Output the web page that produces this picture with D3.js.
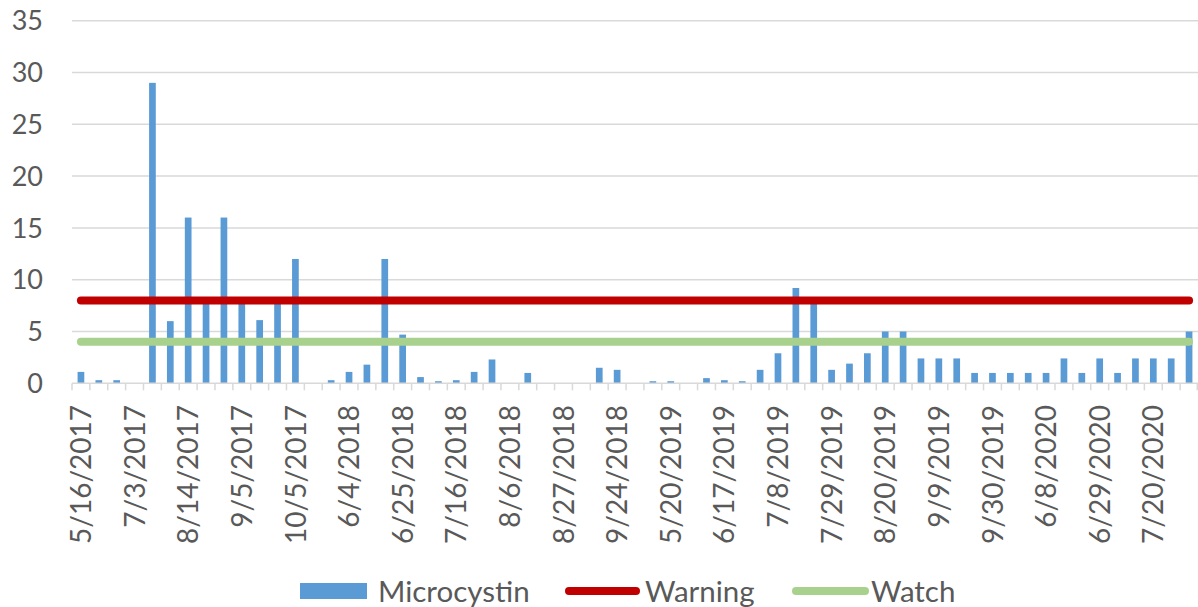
<!DOCTYPE html>
<html>
<head>
<meta charset="utf-8">
<script src="https://cdn.jsdelivr.net/npm/d3@7"></script>
<style>
  html, body { margin: 0; padding: 0; background: #fff; }
  svg { display: block; }
  text { font-family: Lato, "Open Sans", sans-serif; fill: #595959; }
</style>
</head>
<body>
<svg id="chart" width="1198" height="607"></svg>
<script>
// ---- data ----
const dates = [
  "5/16/2017","5/31/2017","6/14/2017","7/3/2017","7/17/2017","7/31/2017","8/14/2017","8/21/2017","8/28/2017",
  "9/5/2017","9/14/2017","9/25/2017","10/5/2017","10/19/2017","5/21/2018","6/4/2018","6/11/2018","6/18/2018",
  "6/25/2018","7/2/2018","7/9/2018","7/16/2018","7/23/2018","7/30/2018","8/6/2018","8/13/2018","8/20/2018",
  "8/27/2018","9/4/2018","9/17/2018","9/24/2018","10/1/2018","5/13/2019","5/20/2019","6/3/2019","6/10/2019",
  "6/17/2019","6/24/2019","7/1/2019","7/8/2019","7/15/2019","7/22/2019","7/29/2019","8/5/2019","8/12/2019",
  "8/20/2019","8/26/2019","9/3/2019","9/9/2019","9/16/2019","9/23/2019","9/30/2019","10/7/2019","6/1/2020",
  "6/8/2020","6/15/2020","6/22/2020","6/29/2020","7/6/2020","7/13/2020","7/20/2020","7/27/2020","8/3/2020"
];
const microcystin = [
  1.1, 0.3, 0.3, 0, 29, 6, 16, 8, 16,
  8, 6.1, 8, 12, 0, 0.3, 1.1, 1.8, 12,
  4.7, 0.6, 0.2, 0.3, 1.1, 2.3, 0, 1.0, 0,
  0, 0, 1.5, 1.3, 0, 0.2, 0.2, 0, 0.5,
  0.3, 0.2, 1.3, 2.9, 9.2, 8, 1.3, 1.9, 2.9,
  5.0, 5.0, 2.4, 2.4, 2.4, 1.0, 1.0, 1.0, 1.0,
  1.0, 2.4, 1.0, 2.4, 1.0, 2.4, 2.4, 2.4, 5.0
];
const warning = dates.map(() => 8);
const watch = dates.map(() => 4);
const yTicks = [0, 5, 10, 15, 20, 25, 30, 35];
const labelEvery = 3;
const legendNames = ["Microcystin", "Warning", "Watch"];

// ---- layout ----
const svg = d3.select("#chart");
const pLeft = 72, pRight = 1198, pTop = 20.7, pBottom = 383.3;

const x = d3.scaleBand().domain(dates).range([pLeft, pRight])
  .paddingInner(0.625).paddingOuter(0.3125);
const y = d3.scaleLinear().domain([0, 35]).range([pBottom, pTop]);
const step = x.step();
const center = d => x(d) + x.bandwidth() / 2;

// gridlines
svg.append("g").selectAll("line").data(yTicks.filter(t => t > 0)).join("line")
  .attr("x1", pLeft).attr("x2", pRight)
  .attr("y1", d => y(d)).attr("y2", d => y(d))
  .attr("stroke", "#d9d9d9").attr("stroke-width", 1.5);

// y labels
svg.append("g").selectAll("text").data(yTicks).join("text")
  .attr("x", 43).attr("y", d => y(d)).attr("dy", "0.36em")
  .attr("text-anchor", "end").attr("font-size", 27)
  .text(d => d);

// bars
svg.append("g").selectAll("rect").data(dates).join("rect")
  .attr("x", d => x(d)).attr("width", x.bandwidth())
  .attr("y", (d, i) => y(microcystin[i]))
  .attr("height", (d, i) => y(0) - y(microcystin[i]))
  .attr("fill", "#5B9BD5");

// x axis baseline + boundary ticks
const xa = svg.append("g");
xa.append("line").attr("x1", pLeft).attr("x2", pRight)
  .attr("y1", y(0)).attr("y2", y(0))
  .attr("stroke", "#d9d9d9").attr("stroke-width", 1.5);
const bounds = dates.map(d => x(d) - (step - x.bandwidth()) / 2).concat([pRight - 0.75]);
xa.selectAll("line.tk").data(bounds).join("line").attr("class", "tk")
  .attr("x1", d => d).attr("x2", d => d)
  .attr("y1", y(0)).attr("y2", y(0) + 7)
  .attr("stroke", "#d9d9d9").attr("stroke-width", 1.5);

// x labels
xa.selectAll("text").data(dates.filter((d, i) => i % labelEvery === 0)).join("text")
  .attr("transform", d => `translate(${center(d)},405) rotate(-90)`)
  .attr("text-anchor", "end").attr("dy", "0.36em")
  .attr("font-size", 28)
  .text(d => d);

// threshold lines
const line = d3.line().x((d, i) => center(dates[i])).y(d => y(d));
svg.append("path").datum(warning).attr("d", line)
  .attr("fill", "none").attr("stroke", "#C00000").attr("stroke-width", 8)
  .attr("stroke-linecap", "round");
svg.append("path").datum(watch).attr("d", line)
  .attr("fill", "none").attr("stroke", "#A9D18E").attr("stroke-width", 8)
  .attr("stroke-linecap", "round");

// legend
const lg = svg.append("g");
const lfs = 29.5;
lg.append("rect").attr("x", 300).attr("y", 583).attr("width", 67).attr("height", 16).attr("fill", "#5B9BD5");
lg.append("text").attr("x", 378).attr("y", 591).attr("dy", "0.36em").attr("font-size", lfs).text(legendNames[0]);
lg.append("line").attr("x1", 569).attr("x2", 636).attr("y1", 591).attr("y2", 591)
  .attr("stroke", "#C00000").attr("stroke-width", 8).attr("stroke-linecap", "round");
lg.append("text").attr("x", 645).attr("y", 591).attr("dy", "0.36em").attr("font-size", lfs).text(legendNames[1]);
lg.append("line").attr("x1", 796).attr("x2", 865).attr("y1", 591).attr("y2", 591)
  .attr("stroke", "#A9D18E").attr("stroke-width", 8).attr("stroke-linecap", "round");
lg.append("text").attr("x", 871).attr("y", 591).attr("dy", "0.36em").attr("font-size", lfs).text(legendNames[2]);
</script>
</body>
</html>
